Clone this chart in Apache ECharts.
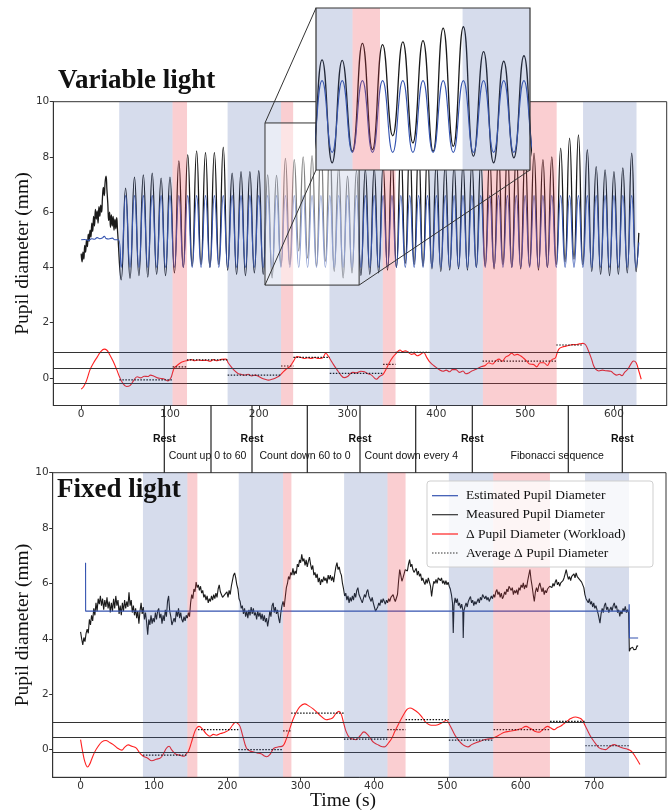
<!DOCTYPE html>
<html><head><meta charset="utf-8">
<script src="https://cdn.jsdelivr.net/npm/echarts@6/dist/echarts.min.js"></script>
<style>html,body{margin:0;padding:0;background:#fff}#c{width:670px;height:811px}</style>
</head><body><div id="c"></div>
<script>
// ---------------- DATA ----------------
const xTicksTop = [0,100,200,300,400,500,600];
const xTicksBottom = [0,100,200,300,400,500,600,700];
const yTicks = [0,2,4,6,8,10];

// Variable light
const topMeasured = [[0,4.5],[1,4.2],[2,4.55],[3,4.3],[4,4.8],[5,4.55],[6,5.0],[7,4.75],[8,5.2],[9,4.95],[10,5.35],[11,5.1],[12,5.6],[13,5.3],[14,5.85],[15,5.5],[16,6.1],[17,5.75],[18,6.05],[19,5.6],[20,6.2],[21,5.85],[22,6.25],[23,6.0],[24,6.55],[25,6.9],[26,6.6],[27,7.1],[28,7.3],[29,6.8],[30,6.3],[31,5.7],[32,6.0],[33,5.45],[34,5.9],[35,5.5],[36,5.85],[37,5.35],[38,5.75],[39,5.4],[40,5.8],[41,5.3],
[45,3.55],[50,6.87],[55,3.6],[60,7.27],[65,3.7],[70,7.35],[75,3.65],[80,7.41],[85,3.75],[90,7.23],[95,3.7],[100,7.27],[105,3.8],[110,7.86],[115,4.0],[120,8.08],[125,4.05],[130,8.22],[135,4.1],[140,8.16],[145,4.0],[150,8.16],[155,4.1],[160,8.35],[165,3.9],[170,7.41],[175,3.75],[180,7.47],[185,3.7],[190,7.47],[195,3.8],[200,7.5],[205,3.75],[210,7.35],[215,3.62],[220,7.33],[225,4.04],[230,7.95],[235,4.1],[240,7.9],[245,4.6],[250,8.0],[255,4.34],[260,8.05],[265,4.04],[270,8.5],[275,4.22],[280,8.55],[285,3.86],[290,7.65],[295,3.62],[300,7.3],[305,3.8],[310,7.5],[315,3.7],[320,7.55],[325,3.75],[330,7.6],[335,3.8],[340,7.7],[345,3.9],[350,8.0],[355,4.0],[360,8.3],[365,4.15],[370,8.45],[375,4.1],[380,8.35],[385,4.05],[390,8.25],[395,3.95],[400,7.85],[405,3.85],[410,7.75],[415,3.9],[420,7.7],[425,3.95],[430,7.75],[435,3.9],[440,7.8],[445,4.0],[450,7.85],[455,4.05],[460,8.0],[465,3.95],[470,8.2],[475,4.1],[480,8.3],[485,4.0],[490,8.25],[495,3.95],[500,8.2],[505,4.05],[510,8.14],[515,3.9],[520,7.9],[525,4.0],[530,8.0],[535,4.1],[540,8.32],[545,4.2],[550,8.68],[555,4.3],[560,8.8],[565,4.1],[570,8.26],[575,3.85],[580,7.65],[585,3.75],[590,7.53],[595,3.7],[600,7.47],[605,3.75],[610,7.6],[615,3.8],[620,8.14],[625,3.85],[628,5.25]];

const topEstimated = [[0,5.0],[4,5.01],[8,4.98],[12,5.04],[15,5.02],[18,5.08],[21,5.04],[24,5.07],[26,5.13],[28,5.05],[31,5.03],[35,5.06],[38,5.0],[42,5.0],
[45,4.0],[50,6.6],[55,4.0],[60,6.6],[65,4.0],[70,6.6],[75,4.0],[80,6.6],[85,4.0],[90,6.6],[95,4.0],[100,6.6],[105,4.0],[110,6.6],[115,4.0],[120,6.6],[125,4.0],[130,6.6],[135,4.0],[140,6.6],[145,4.0],[150,6.6],[155,4.0],[160,6.6],[165,4.0],[170,6.6],[175,4.0],[180,6.6],[185,4.0],[190,6.6],[195,4.0],[200,6.6],[205,4.0],[210,6.6],[215,4.0],[220,6.6],[225,4.0],[230,6.6],[235,4.0],[240,6.6],[245,4.0],[250,6.6],[255,4.0],[260,6.6],[265,4.0],[270,6.6],[275,4.0],[280,6.6],[285,4.0],[290,6.6],[295,4.0],[300,6.6],[305,4.0],[310,6.6],[315,4.0],[320,6.6],[325,4.0],[330,6.6],[335,4.0],[340,6.6],[345,4.0],[350,6.6],[355,4.0],[360,6.6],[365,4.0],[370,6.6],[375,4.0],[380,6.6],[385,4.0],[390,6.6],[395,4.0],[400,6.6],[405,4.0],[410,6.6],[415,4.0],[420,6.6],[425,4.0],[430,6.6],[435,4.0],[440,6.6],[445,4.0],[450,6.6],[455,4.0],[460,6.6],[465,4.0],[470,6.6],[475,4.0],[480,6.6],[485,4.0],[490,6.6],[495,4.0],[500,6.6],[505,4.0],[510,6.6],[515,4.0],[520,6.6],[525,4.0],[530,6.6],[535,4.0],[540,6.6],[545,4.0],[550,6.6],[555,4.0],[560,6.6],[565,4.0],[570,6.6],[575,4.0],[580,6.6],[585,4.0],[590,6.6],[595,4.0],[600,6.6],[605,4.0],[610,6.6],[615,4.0],[620,6.6],[625,4.0],[628,4.9]];

const topDelta = [[0,-0.41],[3,-0.3],[6,-0.1],[10,0.3],[14,0.55],[18,0.75],[22,0.95],[26,1.04],[29,1.0],[32,0.85],[36,0.6],[40,0.3],[43,0.05],[47,-0.2],[51,-0.31],[55,-0.28],[59,-0.1],[63,0.04],[67,0.0],[71,0.06],[75,0.05],[78,0.1],[82,0.06],[86,0.0],[90,-0.02],[94,-0.05],[97.6,-0.11],[101,0.0],[103,0.2],[105,0.37],[108,0.45],[112,0.55],[116,0.6],[120,0.63],[124,0.66],[128,0.62],[132,0.65],[136,0.63],[141,0.64],[145,0.6],[149,0.66],[153,0.62],[158,0.67],[163,0.68],[165.5,0.55],[169,0.4],[173,0.25],[177,0.15],[180,0.13],[184,0.1],[188,0.13],[192,0.07],[196,0.1],[199,0.07],[203,0.0],[207,-0.05],[211,-0.08],[215,-0.05],[219,0.0],[223,0.07],[227,0.2],[231,0.32],[235.5,0.43],[239,0.6],[243,0.77],[247,0.75],[251,0.7],[255,0.73],[259,0.7],[263,0.74],[267,0.7],[271.7,0.72],[275.5,0.89],[278,0.8],[281,0.65],[284,0.49],[288,0.3],[292,0.12],[296,0.01],[300,0.05],[303,0.15],[306,0.2],[310,0.18],[315,0.24],[319,0.22],[323,0.15],[327,0.1],[332.5,-0.05],[336,0.05],[340,0.13],[344,0.35],[347,0.55],[351,0.75],[355,0.9],[359,1.01],[362,0.95],[365,0.98],[368.6,0.92],[372,0.85],[375,0.88],[378.4,0.8],[382,0.85],[385.7,0.92],[389,0.75],[392,0.6],[395.4,0.49],[399,0.4],[403,0.3],[407.5,0.24],[411,0.28],[415,0.22],[418,0.3],[422,0.3],[426,0.2],[430,0.25],[433,0.15],[436.5,0.18],[440,0.25],[444,0.3],[447,0.35],[451,0.41],[455,0.45],[459,0.55],[463,0.5],[467,0.62],[470.5,0.68],[474,0.6],[478,0.75],[481,0.8],[485,0.89],[488,0.82],[491,0.85],[494.7,0.8],[498,0.72],[502,0.6],[505,0.5],[509,0.49],[513,0.4],[517,0.55],[521,0.55],[525,0.45],[528,0.6],[531,0.68],[534,0.72],[536,0.9],[538.4,1.06],[542,1.12],[546,1.15],[550,1.18],[553,1.21],[557,1.2],[561,1.23],[565,1.25],[568,1.2],[571,1.0],[574.8,0.68],[577,0.45],[579.6,0.31],[583,0.25],[587,0.28],[591,0.26],[596.5,0.24],[600,0.15],[603,0.1],[606,0.13],[609,0.08],[612,0.2],[616,0.33],[619,0.5],[622,0.61],[625,0.55],[628,0.25],[630.7,-0.05]];

// [start, end, average]
const topAvg = [[43,103,-0.07],[103,119,0.40],[119,165,0.65],[165,225,0.10],[225,239,0.43],[239,280,0.74],[280,340,0.16],[340,354,0.49],[354,392,0.92],[392,452,0.34],[452,535,0.61],[535,565,1.19],[565,625,0.34]];
const topRest = [[42.8,102.9],[164.9,225.1],[279.6,339.7],[392.3,452.4],[565.2,625.4]];
const topTransition = [[102.9,119.2],[225.1,238.7],[339.7,354],[452.4,535.5]];
const topThresholds = [0.91,0.36,-0.2];
const zoomWindow = {x:[207,313], y:[3.36,9.23]};

// Fixed light
const botMeasured = [[0,4.25],[1.5,4.0],[3,3.78],[4.5,4.05],[6,3.9],[7.5,4.2],[9,4.35],[10.5,4.2],[12,4.7],[13.5,4.5],[15,4.85],[16.5,4.65],[18,5.1],[19.5,4.85],[21,5.3],[22.5,5.0],[24,5.45],[25.5,5.25],[27,5.55],[28.5,5.2],[30,5.45],[31.5,5.05],[33,5.4],[34.5,5.15],[36,5.5],[37.5,5.1],[39,5.35],[40.5,4.95],[42,5.3],[43.5,5.0],[45,5.45],[46.5,5.1],[48,5.55],[49.5,5.2],[51,5.4],[52.5,4.9],[54,5.2],[55.5,4.85],[57,5.3],[58.5,5.0],[60,5.4],[61.5,5.1],[63,5.35],[64.5,5.15],[66,5.68],[67.5,5.2],[69,5.4],[70.5,4.95],[72,5.2],[73.5,4.85],[75,5.1],[76.5,4.75],[78,5.0],[79.5,4.55],[81,5.0],[82.5,5.3],[84,4.9],[85.5,5.15],[87,4.7],[88.5,4.95],[90,4.6],[91.5,4.15],[93,4.7],[94.5,4.5],[96,4.85],[97.5,4.55],[99,4.75],[100.5,4.6],[102,4.95],[103.5,4.7],[105,5.0],[106.5,5.1],[108,4.75],[109.5,4.9],[111,4.55],[112.5,4.85],[114,4.65],[115.5,5.05],[117,4.8],[118.5,5.35],[120,5.55],[121.5,5.0],[123,4.8],[124.5,4.5],[126,4.45],[127.5,4.75],[129,4.6],[130.5,5.0],[132,4.8],[133.5,5.1],[135,4.75],[136.5,4.95],[138,4.7],[139.5,4.6],[141,4.8],[142.5,4.65],[144,4.85],[145.5,4.75],[147,4.95],[148.5,4.8],[150,5.3],[151.5,5.6],[153,5.45],[154.5,5.8],[156,5.7],[157.5,6.05],[159,5.85],[160.5,5.95],[162,5.75],[163.5,5.9],[165,5.65],[166.5,5.75],[168,5.5],[169.5,5.6],[171,5.4],[172.5,5.55],[174,5.3],[175.5,5.45],[177,5.35],[178.5,5.55],[180,5.4],[181.5,5.6],[183,5.45],[184.5,5.65],[186,5.5],[187.5,5.8],[189,5.95],[190.5,5.7],[192,5.6],[193.5,5.5],[195,5.45],[196.5,5.6],[198,5.55],[199.5,5.7],[201,5.5],[202.5,5.75],[204,5.6],[205.5,5.9],[207,6.1],[208.5,6.3],[210,6.38],[211.5,6.2],[213,5.95],[214.5,5.8],[216,5.45],[217.5,5.35],[219,5.1],[220.5,5.2],[222,4.9],[223.5,5.1],[225,4.8],[226.5,5.0],[228,4.75],[229.5,5.05],[231,4.85],[232.5,5.15],[234,4.9],[235.5,5.1],[237,4.85],[238.5,4.95],[240,4.7],[241.5,5.0],[243,4.8],[244.5,4.95],[246,4.7],[247.5,4.9],[249,4.65],[250.5,4.85],[252,4.6],[253.5,4.75],[255,4.45],[256.5,4.7],[258,5.0],[259.5,4.8],[261,5.2],[262.5,5.3],[264,4.95],[265.5,5.15],[267,4.9],[268.5,5.05],[270,4.75],[271.5,4.57],[273,4.95],[274.5,5.2],[276,5.35],[277.5,5.15],[279,5.5],[280.5,5.85],[282,6.0],[283.5,6.25],[285,6.15],[286.5,6.4],[288,6.3],[289.5,6.55],[291,6.3],[292.5,6.45],[294,6.35],[295.5,6.7],[297,6.6],[298.5,6.85],[300,6.75],[301.5,7.05],[303,6.8],[304.5,6.9],[306,6.65],[307.5,6.85],[309,6.6],[310.5,6.8],[312,6.95],[313.5,6.7],[315,6.5],[316.5,6.65],[318,6.3],[319.5,6.4],[321,6.2],[322.5,6.35],[324,6.05],[325.5,6.2],[327,5.95],[328.5,6.15],[330,6.05],[331.5,6.25],[333,6.1],[334.5,6.2],[336,6.0],[337.5,6.3],[339,6.15],[340.5,6.3],[342,6.1],[343.5,6.25],[345,6.05],[346.5,6.35],[348,6.6],[349.5,6.75],[351,6.5],[352.5,6.6],[354,6.4],[355.5,6.3],[357,6.0],[358.5,5.8],[360,5.55],[361.5,5.65],[363,5.4],[364.5,5.55],[366,5.3],[367.5,5.5],[369,5.35],[370.5,5.55],[372,5.4],[373.5,5.65],[375,5.5],[376.5,5.75],[378,5.85],[379.5,5.6],[381,5.5],[382.5,5.4],[384,5.3],[385.5,5.45],[387,5.6],[388.5,5.5],[390,5.7],[391.5,5.78],[393,5.55],[394.5,5.45],[396,5.35],[397.5,5.5],[399,5.3],[400.5,5.15],[402,5.0],[403.5,4.93],[405,5.15],[406.5,5.3],[408,5.2],[409.5,5.42],[411,5.3],[412.5,5.45],[414,5.35],[415.5,5.25],[417,5.4],[418.5,5.3],[420,5.45],[421.5,5.35],[423,5.5],[424.5,5.45],[426,5.6],[427.5,5.45],[429,5.35],[430.5,5.3],[432,5.6],[433.5,6.1],[435,6.5],[436.5,6.3],[438,6.08],[439.5,6.2],[441,6.35],[442.5,6.5],[444,6.56],[445.5,6.45],[447,6.7],[448.5,6.86],[450,6.6],[451.5,6.7],[453,6.5],[454.5,6.4],[456,6.38],[457.5,6.55],[459,6.3],[460.5,6.45],[462,6.26],[463.5,6.35],[465,6.1],[466.5,6.2],[468,6.05],[469.5,5.96],[471,6.15],[472.5,6.0],[474,6.2],[475.5,6.14],[477,5.9],[478.5,5.53],[480,5.85],[481.5,6.08],[483,6.0],[484.5,6.15],[486,6.0],[487.5,6.2],[489,6.26],[490.5,6.1],[492,6.2],[493.5,6.0],[495,6.1],[496.5,5.96],[498,6.1],[499.5,5.95],[501,6.05],[502.5,5.9],[504,5.8],[505.5,5.6],[507,5.3],[508,4.21],[509,5.2],[510.5,5.48],[512,5.3],[513.5,5.45],[515,5.2],[516.5,5.3],[518,5.1],[519.5,5.25],[521,5.05],[521.6,4.03],[522.5,5.0],[524,5.17],[525.5,5.3],[527,5.15],[528.5,5.35],[530,5.45],[531.5,5.53],[533,5.3],[534.5,5.4],[536,5.2],[537.5,5.35],[539,5.25],[540.5,5.3],[542,5.45],[543.5,5.3],[545,5.5],[546.5,5.4],[548,5.6],[549.5,5.66],[551,5.45],[552.5,5.55],[554,5.4],[555.5,5.5],[557,5.35],[558.5,5.42],[560,5.55],[561.5,5.45],[563,5.6],[564.5,5.5],[566,5.7],[567.5,5.78],[569,5.6],[570.5,5.7],[572,5.5],[573.5,5.65],[575,5.45],[576.5,5.53],[578,5.7],[579.5,5.6],[581,5.8],[582.5,5.7],[584,5.9],[585.5,5.96],[587,5.75],[588.5,5.85],[590,5.6],[591.5,5.75],[593,5.65],[594.5,5.78],[596,5.6],[597.5,5.85],[599,5.75],[600.5,5.95],[602,5.85],[603.5,6.02],[605,5.8],[606.5,5.95],[608,5.85],[609.5,6.1],[611,6.3],[612.5,6.5],[614,6.15],[615.5,5.9],[617,5.6],[618.5,5.35],[620,5.7],[621.5,5.85],[623,5.7],[624.5,5.9],[626,6.02],[627.5,5.85],[629,5.7],[630.5,5.85],[632,5.6],[633.5,5.75],[635,5.66],[636.5,5.8],[638,5.75],[639.5,5.9],[641,5.96],[642.5,5.85],[644,6.0],[645.5,5.9],[647,6.05],[648.5,6.14],[650,5.95],[651.5,6.05],[653,5.9],[654.5,6.02],[656,5.95],[657.5,6.1],[659,6.2],[660.5,6.35],[662,6.5],[663.5,6.3],[665,6.15],[666.5,6.25],[668,6.1],[669.5,6.26],[671,6.2],[672.5,6.35],[674,6.2],[675.5,6.38],[677,6.25],[678.5,6.3],[680,6.15],[681.5,6.2],[683,6.05],[684.5,6.08],[686,5.85],[687.5,5.6],[689,5.45],[690.5,5.48],[692,5.3],[693.5,5.45],[695,5.25],[696.5,5.35],[698,5.15],[699.5,5.3],[701,5.1],[702.5,5.2],[704,5.05],[705.5,4.9],[707,4.7],[708,4.57],[709.5,4.9],[711,5.1],[712.5,4.95],[714,5.2],[715.5,5.3],[717,5.05],[718.5,5.15],[720,4.95],[721.5,4.93],[723,5.15],[724.5,5.0],[726,5.2],[727.5,5.3],[729,5.1],[730.5,5.2],[732,4.95],[733.5,5.05],[735,4.81],[736.5,5.0],[738,4.9],[739.5,5.1],[741,5.0],[742.5,5.17],[744,4.95],[745.5,5.05],[747,4.93],[748,3.55],[749.5,3.65],[751,3.58],[752.5,3.7],[754,3.61],[755.5,3.68],[757,3.62],[758.5,3.75],[760,3.73]];

const botEstimated = [[6.8,6.75],[6.9,5.0],[747.5,5.0],[747.8,5.25],[748.2,4.03],[760,4.03]];

const botDelta = [[0,0.36],[3,-0.1],[6,-0.45],[9.5,-0.63],[12,-0.55],[15,-0.36],[19,-0.1],[24,0.12],[29,0.28],[34.6,0.33],[39,0.27],[44.6,0.18],[50,0.06],[56.3,-0.02],[60,0.08],[65,0.17],[70,0.12],[75.6,0.06],[80,-0.1],[85.5,-0.24],[91,-0.3],[97.2,-0.4],[103,-0.35],[109,-0.3],[113,-0.15],[117,0.05],[120.6,0.12],[124,0.0],[129.4,-0.16],[135,-0.2],[141,-0.24],[144,-0.15],[147,-0.06],[151,0.25],[155.8,0.66],[159,0.8],[161.6,0.84],[166,0.75],[171,0.58],[176.3,0.48],[181,0.55],[185,0.52],[190.9,0.58],[196,0.62],[202.7,0.72],[207,0.88],[211.4,0.99],[214,0.95],[217.3,0.84],[221,0.5],[226,0.06],[231,-0.05],[235,-0.08],[240.8,-0.12],[246,-0.15],[250,-0.22],[253.6,-0.26],[258,-0.18],[262,0.0],[264.2,0.06],[270,0.1],[275.9,0.14],[280,0.35],[284.7,0.72],[289,1.05],[293.5,1.32],[299,1.55],[305.3,1.65],[311,1.58],[317,1.47],[322,1.35],[328,1.2],[334.6,1.08],[339,1.1],[343.4,1.14],[348,1.3],[352.2,1.38],[355,1.3],[358,1.02],[362,0.65],[366.8,0.42],[371,0.38],[375.6,0.36],[381,0.5],[386.2,0.64],[391,0.55],[396.2,0.36],[400,0.25],[405,0.18],[409,0.12],[413.8,0.1],[417,0.15],[419.7,0.24],[424,0.4],[428.5,0.66],[434,0.95],[440.2,1.26],[445,1.45],[449,1.5],[454,1.45],[460.7,1.32],[466,1.15],[470,1.0],[475.3,0.9],[481,0.88],[487,0.9],[493,0.98],[498.8,1.05],[503,0.9],[507.6,0.66],[512,0.45],[516.4,0.3],[521,0.18],[525,0.12],[528.1,0.1],[533,0.18],[539.8,0.26],[545,0.3],[549,0.35],[554.5,0.38],[560,0.4],[566.2,0.46],[572,0.55],[577.9,0.63],[585,0.66],[592.6,0.7],[600,0.75],[607.2,0.84],[612,0.78],[616,0.72],[620,0.65],[624.8,0.63],[630,0.72],[636.5,0.84],[641,0.78],[645.3,0.72],[650,0.8],[654.1,0.84],[658,0.92],[662.9,1.02],[668,1.12],[674.6,1.18],[679,1.15],[683.4,1.08],[689,0.8],[695.1,0.48],[701,0.25],[706.9,0.06],[711,0.02],[715.7,0.0],[721,0.1],[727.4,0.18],[733,0.12],[739.1,0.06],[745,0.02],[750.8,-0.06],[756,-0.25],[762.5,-0.54]];

const botAvg = [[85,145,-0.2],[160,215,0.72],[215,276,0.0],[276,287,0.68],[287,359,1.32],[359,418,0.38],[418,443,0.72],[443,502,1.08],[502,563,0.34],[563,640,0.72],[640,688,1.02],[688,748,0.14]];
const botRest = [[85,145.6],[215.6,276],[359.2,418.4],[502,562.5],[687.6,747.6]];
const botTransition = [[145.6,159.2],[276,287.4],[418.4,443],[562.5,639.8]];
const botThresholds = [1.0,0.46,-0.1];

const legendNames = ['Estimated Pupil Diameter','Measured Pupil Diameter','\u0394 Pupil Diameter (Workload)','Average \u0394 Pupil Diameter'];
const yAxisTitle = 'Pupil diameter (mm)';
const restLabel = 'Rest';
const taskLabels = ['Count up 0 to 60','Count down 60 to 0','Count down every 4','Fibonacci sequence'];

// ---------------- STYLE / LAYOUT ----------------
const SERIF = '"Liberation Serif","DejaVu Serif",serif';
const TICKF = '"DejaVu Sans",sans-serif';
const ARIAL = '"Liberation Sans",Arial,sans-serif';
const C_EST = '#3453b0', C_MEAS = '#1a1a1a', C_RED = '#ff2020';
const BLUE_SHADE = 'rgba(68,95,170,0.22)', PINK_SHADE = 'rgba(235,60,70,0.25)';
const G_TOP = {left:53.3, top:101.7, width:613.4, height:303.8};
const G_BOT = {left:52.7, top:472.7, width:613.3, height:304.6};
const G_INS = {left:316, top:8, width:214, height:162};
const restX = [164.3,252,360,472.3,622.3];
const taskLineX = [211,307.3,415.7,568.3];
const taskTextX = [207.5,305,411.3,557.2];

function segs(arr){const d=[];arr.forEach(([a,b,v])=>{d.push([a,v],[b,v],[b,'-']);});return d;}
function areas(rest,trans,lo,hi){
  const cl=(p)=>[Math.max(p[0],lo),Math.min(p[1],hi)];
  const out=[];
  rest.map(cl).filter(p=>p[1]>p[0]).forEach(p=>out.push([{xAxis:p[0],itemStyle:{color:BLUE_SHADE}},{xAxis:p[1]}]));
  trans.map(cl).filter(p=>p[1]>p[0]).forEach(p=>out.push([{xAxis:p[0],itemStyle:{color:PINK_SHADE}},{xAxis:p[1]}]));
  return out;
}
function xAx(gi,min,max,ticks){
  return {gridIndex:gi,type:'value',min:min,max:max,
    axisLine:{show:true,onZero:false,lineStyle:{color:'#333',width:1}},
    axisTick:{show:true,length:3.5,customValues:ticks,lineStyle:{color:'#333'}},
    axisLabel:{customValues:ticks,margin:3,color:'#333',fontFamily:TICKF,fontSize:10.5},
    splitLine:{show:false}};
}
function yAx(gi){
  return {gridIndex:gi,type:'value',min:-1,max:10,
    axisLine:{show:true,onZero:false,lineStyle:{color:'#333',width:1}},
    axisTick:{show:true,length:3.5,customValues:yTicks,lineStyle:{color:'#333'}},
    axisLabel:{customValues:yTicks,margin:4,color:'#333',fontFamily:TICKF,fontSize:10.5},
    splitLine:{show:false}};
}
const line=(gi,data,color,width,extra)=>Object.assign({type:'line',xAxisIndex:gi,yAxisIndex:gi,data:data,showSymbol:false,symbol:'none',silent:true,
  lineStyle:{color:color,width:width},z:2},extra||{});

const chart = echarts.init(document.getElementById('c'),null,{renderer:'canvas'});
const xTopMin=-31.4,xTopMax=659.4,xBotMin=-38,xBotMax=798;
const gridBase={show:true,containLabel:false,outerBoundsMode:'none'};

const option = {
  animation:false,
  textStyle:{fontFamily:TICKF},
  grid:[
    Object.assign({},gridBase,{borderColor:'#333',borderWidth:1,backgroundColor:'transparent'},G_TOP),
    Object.assign({},gridBase,{borderColor:'#333',borderWidth:1,backgroundColor:'transparent'},G_BOT),
    Object.assign({},gridBase,{borderWidth:0,backgroundColor:'#fff',zlevel:1,z:0},G_INS)
  ],
  xAxis:[xAx(0,xTopMin,xTopMax,xTicksTop),xAx(1,xBotMin,xBotMax,xTicksBottom),
    {gridIndex:2,type:'value',min:zoomWindow.x[0],max:zoomWindow.x[1],show:false,zlevel:1}],
  yAxis:[yAx(0),yAx(1),
    {gridIndex:2,type:'value',min:zoomWindow.y[0],max:zoomWindow.y[1],show:false,zlevel:1}],
  series:[
    // top
    line(0,topMeasured,C_MEAS,1.3,{smooth:0.5}),
    line(0,topEstimated,C_EST,1.1,{smooth:0.5,z:2.1}),
    line(0,topDelta,C_RED,1.1,{smooth:0.4,z:2.2,
      markLine:{silent:true,symbol:['none','none'],label:{show:false},z:4,
        lineStyle:{color:'#333',type:'solid',width:1.2},data:topThresholds.map(v=>({yAxis:v}))}}),
    line(0,segs(topAvg),'#111',1.2,{z:2.3,lineStyle:{color:'#111',width:1.2,type:[1.5,1.5]}}),
    {type:'line',xAxisIndex:0,yAxisIndex:0,data:[],silent:true,z:10,
      markArea:{silent:true,z:10,data:areas(topRest,topTransition,xTopMin,xTopMax)}},
    // bottom
    line(1,botMeasured,C_MEAS,1.1,{}),
    line(1,botEstimated,C_EST,1.1,{z:2.1}),
    line(1,botDelta,C_RED,1.1,{smooth:0.4,z:2.2,
      markLine:{silent:true,symbol:['none','none'],label:{show:false},z:4,
        lineStyle:{color:'#333',type:'solid',width:1.2},data:botThresholds.map(v=>({yAxis:v}))}}),
    line(1,segs(botAvg),'#111',1.2,{z:2.3,lineStyle:{color:'#111',width:1.2,type:[1.5,1.5]}}),
    {type:'line',xAxisIndex:1,yAxisIndex:1,data:[],silent:true,z:10,
      markArea:{silent:true,z:10,data:areas(botRest,botTransition,xBotMin,xBotMax)}},
    // inset
    line(2,topMeasured,C_MEAS,1.3,{smooth:0.5,zlevel:1,z:2}),
    line(2,topEstimated,C_EST,1.1,{smooth:0.5,zlevel:1,z:2.1}),
    {type:'line',xAxisIndex:2,yAxisIndex:2,data:[],silent:true,zlevel:1,z:10,
      markArea:{silent:true,zlevel:1,z:10,data:areas(topRest,topTransition,zoomWindow.x[0],zoomWindow.x[1])}}
  ]
};
chart.setOption(option);

// zoom window and connectors from the library's own scales
const pTL = chart.convertToPixel({gridIndex:0},[zoomWindow.x[0],zoomWindow.y[1]]);
const pBR = chart.convertToPixel({gridIndex:0},[zoomWindow.x[1],zoomWindow.y[0]]);
const iTL = chart.convertToPixel({gridIndex:2},[zoomWindow.x[0],zoomWindow.y[1]]);
const iBR = chart.convertToPixel({gridIndex:2},[zoomWindow.x[1],zoomWindow.y[0]]);

const g = [];
g.push({type:'rect',shape:{x:pTL[0],y:pTL[1],width:pBR[0]-pTL[0],height:pBR[1]-pTL[1]},
  style:{fill:'rgba(255,255,255,0.45)',stroke:'#333',lineWidth:1},z:50,silent:true});
const conn=(a,b)=>({type:'line',shape:{x1:a[0],y1:a[1],x2:b[0],y2:b[1]},style:{stroke:'#333',lineWidth:1},z:51,silent:true});
g.push(conn([pTL[0],pTL[1]],[iTL[0],iTL[1]]));
g.push(conn([pTL[0],pBR[1]],[iTL[0],iBR[1]]));
g.push(conn([pBR[0],pBR[1]],[iBR[0],iBR[1]]));
g.push({type:'rect',shape:{x:iTL[0],y:iTL[1],width:iBR[0]-iTL[0],height:iBR[1]-iTL[1]},
  style:{fill:'none',stroke:'#333',lineWidth:1.2},zlevel:1,z:100,silent:true});

// titles
const txt=(x,y,t,font,align,va,fill)=>({type:'text',silent:true,z:60,style:{x:x,y:y,text:t,font:font,fill:fill||'#111',
  textAlign:align||'left',textVerticalAlign:va||'middle',align:align||'left',verticalAlign:va||'middle'}});
g.push(txt(58,81.5,'Variable light','bold 27px '+SERIF));
g.push(txt(57,490,'Fixed light','bold 27px '+SERIF));
g.push(txt(343,801,'Time (s)','19.5px '+SERIF,'center'));
// rotated y-axis titles
[G_TOP,G_BOT].forEach(G=>g.push({type:'text',silent:true,z:60,x:22.5,y:G.top+G.height/2,rotation:Math.PI/2,
  style:{text:yAxisTitle,font:'19.5px '+SERIF,fill:'#111',textAlign:'center',textVerticalAlign:'middle',align:'center',verticalAlign:'middle'}}));

// phase annotations between the panels
const yA = G_TOP.top+G_TOP.height, yB = G_BOT.top;
restX.concat(taskLineX).forEach(x=>g.push({type:'line',silent:true,z:55,shape:{x1:x,y1:yA,x2:x,y2:yB},style:{stroke:'#222',lineWidth:1.2}}));
restX.forEach(x=>g.push(txt(x,439,restLabel,'bold 10.5px '+ARIAL,'center','middle','#111')));
taskLabels.forEach((t,i)=>g.push(txt(taskTextX[i],455.7,t,'10.5px '+ARIAL,'center','middle','#111')));

// legend
g.push({type:'rect',silent:true,z:60,shape:{x:427,y:481,width:226,height:86,r:3},
  style:{fill:'rgba(255,255,255,0.8)',stroke:'#cfcfcf',lineWidth:1}});
const legRows=[495.7,514.7,534,553];
const legStyles=[{stroke:C_EST,lineWidth:1.2},{stroke:'#333',lineWidth:1.2},{stroke:C_RED,lineWidth:1.2},{stroke:'#333',lineWidth:1.1,lineDash:[1.5,1.5]}];
legendNames.forEach((n,i)=>{
  g.push({type:'line',silent:true,z:61,shape:{x1:432,y1:legRows[i],x2:458,y2:legRows[i]},style:legStyles[i]});
  g.push(txt(466,legRows[i],n,'13.5px '+SERIF,'left','middle','#111'));
});
chart.setOption({graphic:g});
</script></body></html>
